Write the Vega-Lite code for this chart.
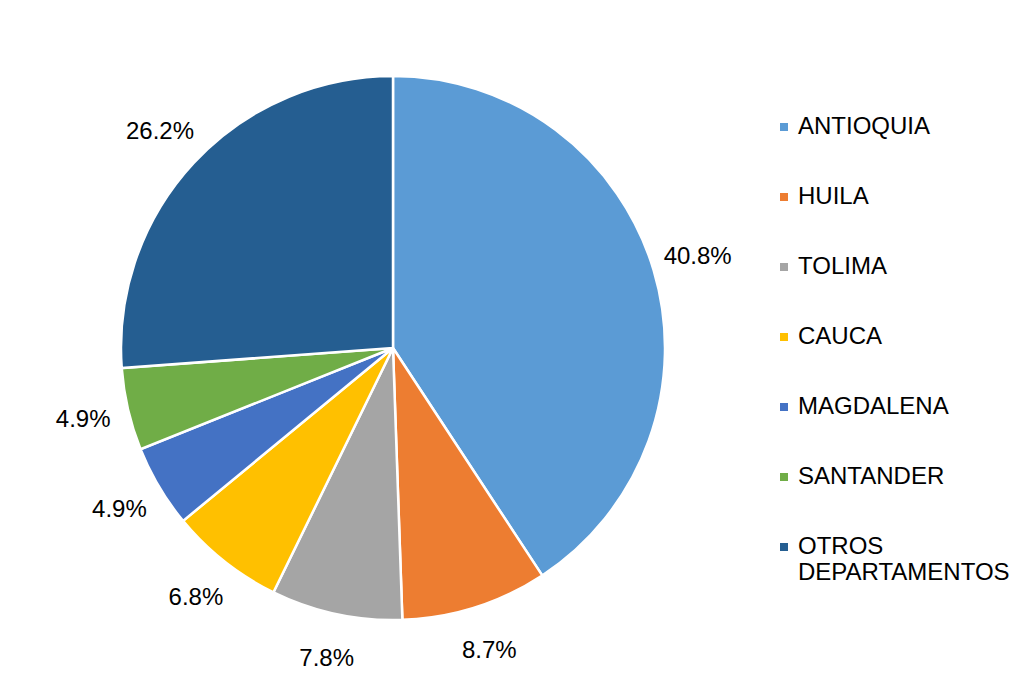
{
  "$schema": "https://vega.github.io/schema/vega-lite/v6.json",
  "width": 748,
  "height": 676,
  "padding": {"left": 19, "top": 10, "right": 0, "bottom": 0},
  "background": "white",
  "config": {"view": {"stroke": null}, "font": "Liberation Sans"},
  "data": {
    "values": [
      {"rank": 1, "departamento": "ANTIOQUIA", "share": 0.408},
      {"rank": 2, "departamento": "HUILA", "share": 0.087},
      {"rank": 3, "departamento": "TOLIMA", "share": 0.078},
      {"rank": 4, "departamento": "CAUCA", "share": 0.068},
      {"rank": 5, "departamento": "MAGDALENA", "share": 0.049},
      {"rank": 6, "departamento": "SANTANDER", "share": 0.049},
      {"rank": 7, "departamento": "OTROS DEPARTAMENTOS", "share": 0.262}
    ]
  },
  "encoding": {
    "theta": {"field": "share", "type": "quantitative", "stack": true},
    "order": {"field": "rank", "type": "quantitative"}
  },
  "layer": [
    {
      "mark": {"type": "arc", "outerRadius": 272, "stroke": "white", "strokeWidth": 2.5},
      "encoding": {
        "color": {
          "field": "departamento",
          "type": "nominal",
          "sort": null,
          "scale": {
            "domain": ["ANTIOQUIA", "HUILA", "TOLIMA", "CAUCA", "MAGDALENA", "SANTANDER", "OTROS DEPARTAMENTOS"],
            "range": ["#5B9BD5", "#ED7D31", "#A5A5A5", "#FFC000", "#4472C4", "#70AD47", "#255E91"]
          },
          "legend": {
            "title": null,
            "orient": "none",
            "legendX": 753,
            "legendY": 105,
            "padding": 0,
            "symbolType": "square",
            "symbolSize": 64,
            "symbolStrokeWidth": 0,
            "labelFontSize": 24,
            "labelFont": "Liberation Sans",
            "labelColor": "black",
            "labelOffset": 2,
            "labelLimit": 400,
            "rowPadding": 46,
            "labelExpr": "datum.label == 'OTROS DEPARTAMENTOS' ? ['OTROS', 'DEPARTAMENTOS'] : datum.label"
          }
        }
      }
    },
    {
      "mark": {"type": "text", "radius": 318, "fontSize": 24, "font": "Liberation Sans", "color": "black"},
      "encoding": {
        "text": {"field": "share", "type": "quantitative", "format": ".1%"}
      }
    }
  ]
}
